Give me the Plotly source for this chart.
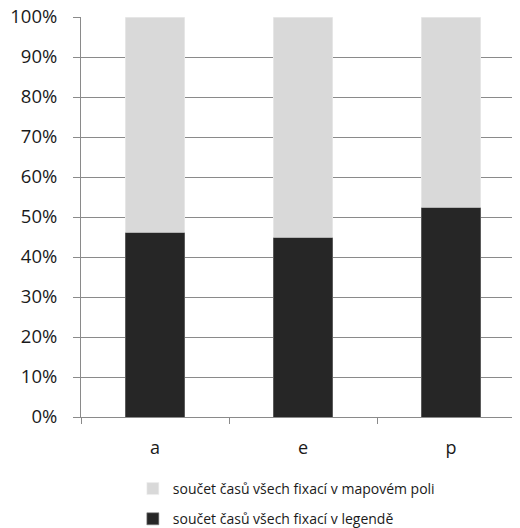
import plotly.graph_objects as go

categories = ["a", "e", "p"]
legend_share = [46.25, 45.0, 52.5]
map_share = [100 - v for v in legend_share]
name_map = "součet časů všech fixací v mapovém poli"
name_legend = "součet časů všech fixací v legendě"
y_ticks = list(range(0, 101, 10))
y_tick_labels = [f"{v}%" for v in y_ticks]

fig = go.Figure()
fig.add_trace(go.Bar(x=categories, y=legend_share, name=name_legend, legendgroup="g2", legendrank=2,
                     marker=dict(color="#262626", line=dict(color="#7f7f7f", width=0.6)), width=0.4))
fig.add_trace(go.Bar(x=categories, y=map_share, name=name_map, legendgroup="g1", legendrank=1,
                     marker=dict(color="#d9d9d9", line=dict(color="#eeeeee", width=0.6)), width=0.4))

fig.update_layout(
    width=520, height=528,
    barmode="stack",
    plot_bgcolor="white", paper_bgcolor="white",
    margin=dict(l=73, r=0, t=9, b=119, autoexpand=False),
    font=dict(family="Open Sans", color="#1a1a1a"),
    legend=dict(x=0.116, xanchor="left", y=-0.14, yanchor="top",
                traceorder="grouped", tracegroupgap=9,
                font=dict(size=14, family="Open Sans", color="#1a1a1a"),
                itemwidth=30, bgcolor="rgba(0,0,0,0)"),
    showlegend=True,
)
fig.update_yaxes(range=[0, 100], tickvals=y_ticks, ticktext=y_tick_labels,
                 showgrid=True, gridcolor="#8a8a8a", gridwidth=1,
                 showline=True, linecolor="#8a8a8a", linewidth=1,
                 ticks="outside", ticklen=7, tickcolor="#8a8a8a", automargin=False,
                 ticklabeloverflow="allow",
                 tickfont=dict(size=18.5), ticklabelstandoff=12, zeroline=False)
fig.update_xaxes(range=[-0.5, 2.52], showline=True, linecolor="#8a8a8a", linewidth=1,
                 ticks="outside", tickson="boundaries", ticklen=6, tickcolor="#8a8a8a", automargin=False,
                 tickfont=dict(size=18), ticklabelstandoff=14, showgrid=False)

fig.write_html("out.html")
